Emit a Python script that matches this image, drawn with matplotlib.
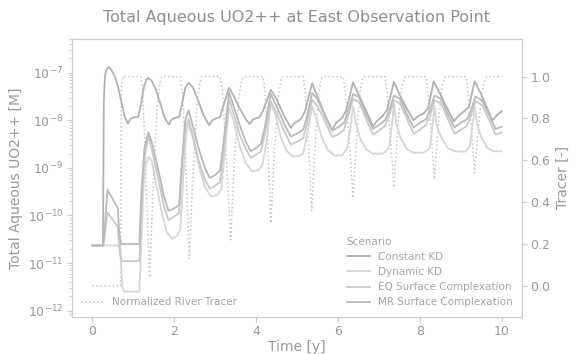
import numpy as np
import matplotlib
matplotlib.use('Agg')
import matplotlib.pyplot as plt

# Aqueous UO2++ at the east observation point, log10 of concentration [M]
t_const = [0, 0.26, 0.28, 0.31, 0.35, 0.40, 0.46, 0.55, 0.63, 0.72, 0.80, 0.87, 0.93, 1.0, 1.12,
           1.18, 1.26, 1.32, 1.37, 1.45, 1.55, 1.65, 1.77, 1.87, 1.94, 2.02, 2.12, 2.18, 2.27,
           2.35, 2.45, 2.57, 2.72, 2.85, 2.93, 3.0, 3.12, 3.2, 3.34, 3.45, 3.6, 3.75, 3.85,
           3.92, 4.08, 4.17, 4.36, 4.5, 4.68, 4.85, 4.93, 5.1, 5.2, 5.37, 5.5, 5.68, 5.86,
           5.95, 6.1, 6.2, 6.37, 6.5, 6.7, 6.86, 6.95, 7.1, 7.2, 7.37, 7.5, 7.7, 7.85, 7.95,
           8.1, 8.2, 8.34, 8.5, 8.7, 8.83, 8.95, 9.1, 9.2, 9.34, 9.5, 9.65, 9.77, 9.88, 10.0]
logc_const = [-10.63, -10.63, -7.6, -7.05, -6.92, -6.88, -6.93, -7.08, -7.3, -7.65, -7.95, -8.07,
              -7.97, -7.94, -7.93, -7.7, -7.3, -7.15, -7.11, -7.17, -7.35, -7.62, -7.95, -8.09,
              -7.98, -7.95, -7.93, -7.7, -7.32, -7.21, -7.3, -7.55, -7.9, -8.1, -8.0, -7.97,
              -7.93, -7.7, -7.32, -7.48, -7.75, -7.98, -8.08, -7.98, -7.94, -7.8, -7.36, -7.55,
              -7.9, -8.16, -8.07, -7.97, -7.8, -7.22, -7.5, -7.88, -8.2, -8.06, -7.95, -7.8,
              -7.20, -7.45, -7.82, -8.13, -8.02, -7.9, -7.78, -7.19, -7.45, -7.78, -8.0, -7.92,
              -7.85, -7.75, -7.18, -7.45, -7.8, -8.02, -7.9, -7.8, -7.72, -7.18, -7.45, -7.75,
              -8.0, -7.9, -7.81]

t_dyn = [0, 0.68, 0.73, 0.78, 1.15, 1.2, 1.25, 1.3, 1.37, 1.45, 1.55, 1.7, 1.82, 1.95, 2.08,
         2.15, 2.22, 2.3, 2.35, 2.45, 2.6, 2.75, 2.9, 3.05, 3.15, 3.22, 3.34, 3.45, 3.6, 3.75,
         3.9, 4.05, 4.15, 4.25, 4.36, 4.48, 4.6, 4.75, 4.9, 5.05, 5.15, 5.25, 5.37, 5.47, 5.6,
         5.75, 5.92, 6.1, 6.22, 6.3, 6.37, 6.45, 6.55, 6.7, 6.85, 7.1, 7.25, 7.32, 7.37, 7.42,
         7.52, 7.68, 7.85, 8.1, 8.25, 8.31, 8.36, 8.41, 8.52, 8.68, 8.85, 9.1, 9.22, 9.29,
         9.34, 9.4, 9.5, 9.65, 9.8, 10.0]
logc_dyn = [-10.63, -10.63, -11.5, -11.6, -11.6, -10.5, -9.4, -8.95, -8.77, -8.85, -9.3, -9.95,
            -10.35, -10.49, -10.42, -10.3, -9.2, -8.25, -8.07, -8.35, -8.95, -9.4, -9.6, -9.57,
            -9.45, -8.8, -7.74, -8.0, -8.55, -8.9, -9.07, -9.05, -8.95, -8.5, -7.65, -7.9,
            -8.35, -8.65, -8.76, -8.75, -8.7, -8.3, -7.71, -7.95, -8.35, -8.62, -8.74, -8.74,
            -8.6, -8.2, -7.7, -8.1, -8.4, -8.62, -8.7, -8.7, -8.58, -8.1, -7.65, -8.05, -8.35,
            -8.6, -8.68, -8.68, -8.58, -8.1, -7.7, -8.1, -8.35, -8.58, -8.65, -8.66, -8.56,
            -8.1, -7.72, -8.1, -8.35, -8.58, -8.65, -8.65]

t_sc = [0, 0.27, 0.37, 0.62, 0.67, 0.72, 1.15, 1.2, 1.27, 1.37, 1.45, 1.6, 1.75, 1.86, 2.0,
        2.12, 2.18, 2.27, 2.35, 2.45, 2.6, 2.75, 2.87, 3.0, 3.12, 3.2, 3.34, 3.45, 3.6, 3.75,
        3.87, 4.0, 4.12, 4.2, 4.36, 4.5, 4.7, 4.85, 5.0, 5.15, 5.25, 5.37, 5.5, 5.7, 5.86, 6.0,
        6.15, 6.25, 6.37, 6.52, 6.7, 6.86, 7.0, 7.15, 7.25, 7.37, 7.52, 7.7, 7.85, 8.0, 8.15,
        8.25, 8.36, 8.52, 8.7, 8.85, 9.0, 9.15, 9.25, 9.36, 9.52, 9.7, 9.85, 10.0]
logc_eq = [-10.63, -10.63, -9.94, -10.23, -10.8, -10.96, -10.96, -9.8, -8.8, -8.35, -8.6, -9.2,
           -9.8, -10.1, -10.02, -9.95, -9.1, -8.15, -7.97, -8.3, -8.85, -9.25, -9.44, -9.37,
           -9.3, -8.7, -7.57, -7.85, -8.3, -8.6, -8.79, -8.72, -8.65, -8.35, -7.6, -7.85,
           -8.25, -8.51, -8.45, -8.38, -8.05, -7.57, -7.7, -8.05, -8.35, -8.3, -8.2, -7.9,
           -7.55, -7.62, -8.0, -8.3, -8.22, -8.12, -7.9, -7.58, -7.65, -8.0, -8.28, -8.2,
           -8.1, -7.9, -7.58, -7.65, -8.0, -8.28, -8.2, -8.12, -7.9, -7.6, -7.68, -8.0, -8.3,
           -8.26]

t_mr = [0, 0.27, 0.37, 0.62, 0.66, 0.70, 1.15, 1.2, 1.27, 1.37, 1.45, 1.6, 1.75, 1.86, 2.0,
        2.12, 2.18, 2.27, 2.35, 2.45, 2.6, 2.75, 2.87, 3.0, 3.12, 3.2, 3.34, 3.45, 3.6, 3.75,
        3.87, 4.0, 4.12, 4.2, 4.36, 4.5, 4.7, 4.85, 5.0, 5.15, 5.25, 5.37, 5.5, 5.7, 5.86, 6.0,
        6.15, 6.25, 6.37, 6.52, 6.7, 6.86, 7.0, 7.15, 7.25, 7.37, 7.52, 7.7, 7.85, 8.0, 8.15,
        8.25, 8.36, 8.52, 8.7, 8.85, 9.0, 9.15, 9.25, 9.36, 9.52, 9.7, 9.85, 10.0]
logc_mr = [-10.63, -10.63, -9.46, -9.84, -10.4, -10.6, -10.6, -9.5, -8.6, -8.25, -8.45, -9.0,
           -9.6, -9.9, -9.85, -9.78, -9.0, -8.0, -7.79, -8.1, -8.6, -9.0, -9.21, -9.15, -9.05,
           -8.5, -7.42, -7.7, -8.1, -8.45, -8.65, -8.58, -8.5, -8.2, -7.45, -7.7, -8.1, -8.34,
           -8.28, -8.2, -7.9, -7.43, -7.55, -7.95, -8.22, -8.15, -8.05, -7.8, -7.45, -7.52,
           -7.9, -8.18, -8.1, -8.0, -7.8, -7.48, -7.55, -7.9, -8.15, -8.05, -7.98, -7.78,
           -7.48, -7.55, -7.9, -8.15, -8.05, -7.98, -7.8, -7.5, -7.58, -7.9, -8.18, -8.14]

# Normalized river tracer
t_tracer = [0, 0.69, 0.71, 0.75, 1.18, 1.22, 1.27, 1.33, 1.40, 1.48, 1.58, 1.65, 1.70, 2.15,
            2.20, 2.26, 2.37, 2.45, 2.55, 2.62, 2.67, 3.12, 3.18, 3.25, 3.38, 3.47, 3.58, 3.65,
            3.70, 4.17, 4.22, 4.28, 4.36, 4.45, 4.55, 4.62, 4.65, 5.15, 5.2, 5.27, 5.36, 5.45,
            5.53, 5.6, 5.63, 6.13, 6.18, 6.26, 6.37, 6.46, 6.54, 6.6, 6.63, 7.15, 7.2, 7.27,
            7.37, 7.46, 7.55, 7.62, 7.65, 8.15, 8.2, 8.27, 8.36, 8.45, 8.53, 8.6, 8.63, 9.13,
            9.18, 9.25, 9.34, 9.44, 9.53, 9.6, 9.64, 10.0]
tracer = [0.0, 0.0, 0.95, 1.0, 1.0, 0.95, 0.75, 0.4, 0.04, 0.45, 0.85, 0.97, 1.0, 1.0,
          0.93, 0.7, 0.13, 0.5, 0.85, 0.97, 1.0, 1.0, 0.93, 0.7, 0.22, 0.6, 0.9, 0.98, 1.0,
          1.0, 0.93, 0.72, 0.30, 0.65, 0.92, 0.99, 1.0, 1.0, 0.93, 0.72, 0.36, 0.7, 0.92, 0.99,
          1.0, 1.0, 0.93, 0.75, 0.42, 0.72, 0.93, 0.99, 1.0, 1.0, 0.93, 0.75, 0.47, 0.75, 0.94,
          0.99, 1.0, 1.0, 0.93, 0.76, 0.51, 0.77, 0.94, 0.99, 1.0, 1.0, 0.93, 0.78, 0.54, 0.78,
          0.94, 0.99, 1.0, 1.0]

TXT = '#999999'
EDGE = '#cccccc'

plt.rcParams.update({
    'font.family': 'DejaVu Sans',
    'text.color': TXT,
    'axes.labelcolor': TXT,
    'axes.edgecolor': EDGE,
    'xtick.color': EDGE,
    'ytick.color': EDGE,
    'xtick.labelcolor': TXT,
    'ytick.labelcolor': TXT,
    'xtick.labelsize': 9,
    'ytick.labelsize': 9,
    'xtick.major.pad': 2.5,
    'ytick.major.pad': 2.5,
})

fig = plt.figure(figsize=(5.75, 3.54), dpi=100)
ax = fig.add_axes([0.125, 0.105, 0.783, 0.785])
ax2 = ax.twinx()

scenarios = [
    ('Constant KD', t_const, logc_const, '#b2b2b2'),
    ('Dynamic KD', t_dyn, logc_dyn, '#d6d6d6'),
    ('EQ Surface Complexation', t_sc, logc_eq, '#cacaca'),
    ('MR Surface Complexation', t_mr, logc_mr, '#bababa'),
]
for name, tt, lc, col in scenarios:
    ax.plot(tt, 10.0 ** np.array(lc), color=col, lw=1.3, label=name)

ax2.plot(t_tracer, tracer, color='#c6c6c6', lw=1.1, ls=':', label='Normalized River Tracer')

ax.set_yscale('log')
ax.set_ylim(10 ** -12.13, 10 ** -6.29)
ax.set_xlim(-0.5, 10.5)
ax.set_xticks(np.arange(0, 11, 2))
ax2.set_ylim(-0.148, 1.18)
ax2.set_yticks(np.arange(0, 1.01, 0.2))

ax.set_xlabel('Time [y]', fontsize=10, labelpad=1)
ax.set_ylabel('Total Aqueous UO2++ [M]', fontsize=10, labelpad=3)
ax2.set_ylabel('Tracer [-]', fontsize=10, labelpad=4)
ax.set_title('Total Aqueous UO2++ at East Observation Point', fontsize=11.5,
             color='#8e8e8e', pad=12)

ax.set_zorder(ax2.get_zorder() + 1)
ax.patch.set_visible(False)

leg = ax.legend(title='Scenario', loc='lower right', frameon=False, fontsize=7.5,
                title_fontsize=7.5, alignment='left', handlelength=2.2)
for txt in leg.get_texts():
    txt.set_color('#a5a5a5')
leg.get_title().set_color('#a5a5a5')

leg2 = ax2.legend(loc='lower left', frameon=False, fontsize=7.5, handlelength=2.2)
for txt in leg2.get_texts():
    txt.set_color('#a5a5a5')

fig.savefig('out.png', dpi=100)
